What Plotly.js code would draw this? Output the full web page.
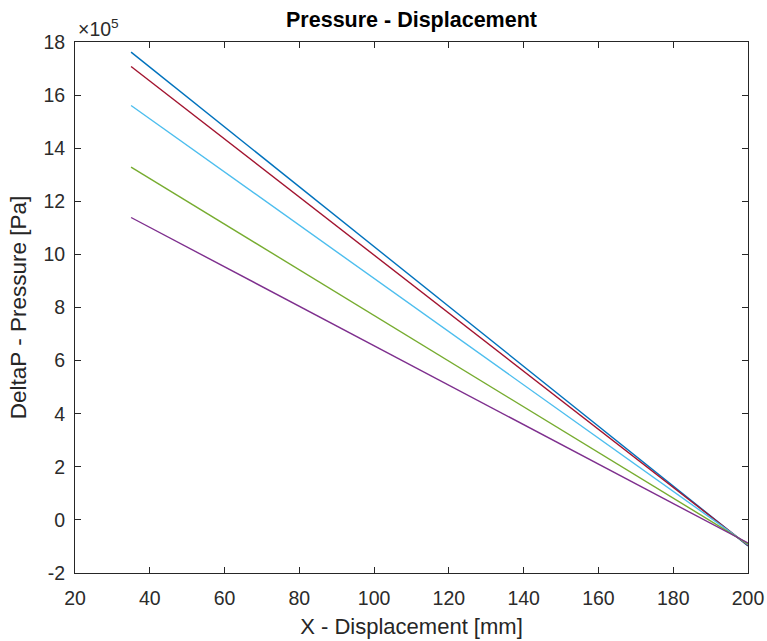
<!DOCTYPE html>
<html>
<head>
<meta charset="utf-8">
<script src="https://cdn.plot.ly/plotly-3.0.1.min.js"></script>
<style>html,body{margin:0;padding:0;background:#fff;}#chart{width:767px;height:641px;}</style>
</head>
<body>
<div id="chart"></div>
<script>
// Displacement [mm] at the two ends of each line
const xDisp = [35, 200];
// DeltaP values in units of 1e5 Pa
const pBlue = [17.62, -0.98];
const pRed = [17.08, -0.96];
const pCyan = [15.61, -0.93];
const pGreen = [13.29, -0.9];
const pPurple = [11.39, -0.87];
const seriesNames = ['Series 1', 'Series 2', 'Series 3', 'Series 4', 'Series 5'];
const seriesColors = ['#0072BD', '#A2142F', '#4DBEEE', '#77AC30', '#7E2F8E'];
const yTickVals = [-2, 0, 2, 4, 6, 8, 10, 12, 14, 16, 18];
const xTickVals = [20, 40, 60, 80, 100, 120, 140, 160, 180, 200];

const allY = [pBlue, pRed, pCyan, pGreen, pPurple];
const traces = allY.map((ys, i) => ({
  x: xDisp, y: ys, type: 'scatter', mode: 'lines', name: seriesNames[i],
  line: {color: seriesColors[i], width: 1.4}
}));

const FONT = 'Liberation Sans, Arial, sans-serif';
const axisCommon = {
  showgrid: false, zeroline: false, showline: true, linecolor: '#262626', linewidth: 1,
  mirror: 'ticks', ticks: 'inside', ticklen: 6, tickwidth: 1, tickcolor: '#262626',
  tickfont: {family: FONT, size: 19.5, color: '#2b2b2b'}
};

const layout = {
  width: 767, height: 641,
  margin: {l: 75, r: 19, t: 42, b: 68},
  paper_bgcolor: '#fff', plot_bgcolor: '#fff',
  showlegend: false,
  title: {text: '<b>Pressure - Displacement</b>', xref: 'paper', x: 0.5, xanchor: 'center', y: 0.969, yanchor: 'middle',
    font: {family: FONT, size: 21.5, color: '#000'}},
  xaxis: Object.assign({}, axisCommon, {
    range: [20, 200], tickvals: xTickVals, ticktext: xTickVals.map(String), ticklabelstandoff: 8,
    title: {text: 'X - Displacement [mm]', standoff: 10, font: {family: FONT, size: 22, color: '#262626'}}
  }),
  yaxis: Object.assign({}, axisCommon, {
    range: [-2, 18], tickvals: yTickVals, ticktext: yTickVals.map(String), ticklabelstandoff: 5,
    title: {text: 'DeltaP - Pressure [Pa]', standoff: 10, font: {family: FONT, size: 22.5, color: '#262626'}}
  }),
  annotations: [{
    xref: 'paper', yref: 'paper', x: 0.0, y: 1.0, xanchor: 'left', yanchor: 'bottom', yshift: 0, xshift: 1,
    text: '×10<sup>5</sup>', showarrow: false,
    font: {family: FONT, size: 19.5, color: '#2b2b2b'}
  }]
};

Plotly.newPlot('chart', traces, layout, {displayModeBar: false, staticPlot: true});
</script>
</body>
</html>
